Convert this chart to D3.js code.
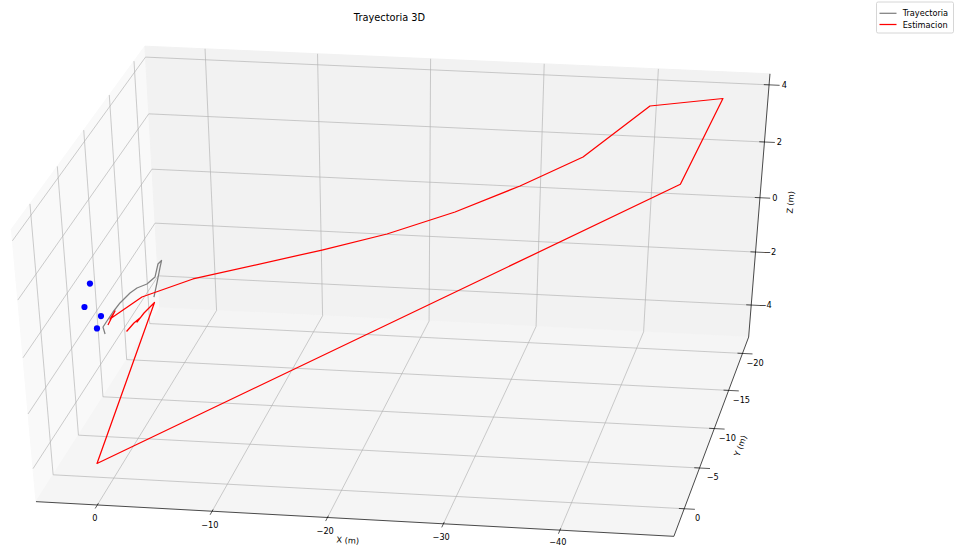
<!DOCTYPE html>
<html>
<head>
<meta charset="utf-8">
<title>Trayectoria 3D</title>
<script src="https://cdn.jsdelivr.net/npm/d3@7"></script>
<style>
  html, body { margin: 0; padding: 0; background: #fff; }
  svg { display: block; font-family: "DejaVu Sans", sans-serif; }
</style>
</head>
<body>
<svg id="chart" width="957" height="546"></svg>
<script>
// ---- data (metres) ----
// estimated trajectory
const estX = [-1.71, -1.87, -2.10, -2.07, -2.17, -2.48, 1.45, -45.15, -46.28, -39.97, -35.28, -30.47, -25.50, -20.10, -14.81, -4.78, -1.30, 0.34, 0.36, 0.18];
const estY = [-0.55, -1.65, -2.31, -1.79, -2.96, -4.35, -0.11, -10.90, -20.00, -20.12, -16.57, -14.54, -12.53, -11.05, -10.01, -6.88, -4.61, -2.00, -3.03, -1.24];
const estZ = [0, 0, 0, 0, 0, 0, -4.75, 3.25, 4.00, 3.60, 2.60, 2.00, 1.50, 1.00, 0.60, 0.20, 0.10, 0, 0, 0];
// real trajectory
const trajX = [-0.07, 0.48, 0.48, 0.47, 0.38, 0.09, -0.22, -0.84, -1.14, -0.67, -0.78, -1.06, -1.63, -2.14];
const trajY = [-0.11, -0.96, -1.73, -2.89, -4.07, -5.40, -6.09, -6.66, -7.62, -9.33, -9.81, -8.82, -6.85, -5.04];
const trajZ = [0, 0, 0, 0, 0, 0, 0, 0, 0, 0, 0, 0, 0, 0];
// anchors
const ancX = [4.00, 3.13, 1.25, 0.90];
const ancY = [-6.36, -3.34, -2.31, -0.74];
const ancZ = [0, 0, 0, 0];

// ---- axes ----
const xLim = [-49.726, 5.3654];
const yLim = [-22.2626, 3.2933];
const zLim = [-5.2323, 4.38];
const xTicks = [0, -10, -20, -30, -40];
const yTicks = [0, -5, -10, -15, -20];
const zTicks = [-4, -2, 0, 2, 4];
const axisTitles = ["X (m)", "Y (m)", "Z (m)"];
const chartTitle = "Trayectoria 3D";
const seriesNames = ["Trayectoria", "Estimacion"];

// ---- camera (elevation / azimuth in degrees, distance in box units) ----
const elev = 35.93, azim = 99.23, dist = 9.42;

const svg = d3.select("#chart");
const fontTick = 8.2, fontTitle = 9.8;
const H = +svg.attr("height");

// data -> unit cube
const nx = d3.scaleLinear().domain(xLim).range([0, 1]);
const ny = d3.scaleLinear().domain(yLim).range([0, 1]);
const nz = d3.scaleLinear().domain(zLim).range([0, 1]);
// projected view coordinates -> pixels
const px = d3.scaleLinear().domain([-0.095, 0.09]).range([-167.84, 946.89]);
const py = d3.scaleLinear().domain([-0.095, 0.09]).range([582.47, 6.68]);

// view basis
const el = elev * Math.PI / 180, az = azim * Math.PI / 180;
const eye = [0.5 + Math.cos(az) * Math.cos(el) * dist,
             0.5 + Math.sin(az) * Math.cos(el) * dist,
             0.5 + Math.sin(el) * dist];
const nv = (() => { const d = eye.map(e => e - 0.5); const l = Math.hypot(...d); return d.map(v => v / l); })();
const uv = (() => { const d = [-nv[1], nv[0], 0]; const l = Math.hypot(...d); return d.map(v => v / l); })();
const vv = [nv[1] * uv[2] - nv[2] * uv[1], nv[2] * uv[0] - nv[0] * uv[2], nv[0] * uv[1] - nv[1] * uv[0]];
const dot = (a, b) => a[0] * b[0] + a[1] * b[1] + a[2] * b[2];

function proj(x, y, z) {
  const c = [nx(x) - eye[0], ny(y) - eye[1], nz(z) - eye[2]];
  const w = -dot(nv, c);
  return [px(dot(uv, c) / w), py(dot(vv, c) / w)];
}

const [x0, x1] = xLim, [y0, y1] = yLim, [z0, z1] = zLim;
// far planes: x = x1, y = y0, z = z0 ; near planes: x = x0, y = y1, z = z1
const line = d3.line();
const gPanes = svg.append("g");
const panes = [
  { pts: [[x1, y0, z0], [x1, y1, z0], [x1, y1, z1], [x1, y0, z1]], fill: "#f9f9f9" },
  { pts: [[x0, y0, z0], [x1, y0, z0], [x1, y0, z1], [x0, y0, z1]], fill: "#f2f2f2" },
  { pts: [[x0, y0, z0], [x1, y0, z0], [x1, y1, z0], [x0, y1, z0]], fill: "#f5f5f5" }
];
panes.forEach(p => {
  gPanes.append("path")
    .attr("d", line(p.pts.map(q => proj(...q))) + "Z")
    .attr("fill", p.fill).attr("stroke", p.fill).attr("stroke-width", 1);
});

// grid lines
const gGrid = svg.append("g").attr("fill", "none").attr("stroke", "#b0b0b0").attr("stroke-width", 0.65);
xTicks.forEach(t => gGrid.append("path").attr("d", line([[t, y1, z0], [t, y0, z0], [t, y0, z1]].map(q => proj(...q)))));
yTicks.forEach(t => gGrid.append("path").attr("d", line([[x1, t, z1], [x1, t, z0], [x0, t, z0]].map(q => proj(...q)))));
zTicks.forEach(t => gGrid.append("path").attr("d", line([[x0, y0, t], [x1, y0, t], [x1, y1, t]].map(q => proj(...q)))));

// axis lines
const axes = [
  { a: [x1, y1, z0], b: [x0, y1, z0] },
  { a: [x0, y0, z0], b: [x0, y1, z0] },
  { a: [x0, y0, z0], b: [x0, y0, z1] }
];
const gAxis = svg.append("g").attr("stroke", "#000").attr("stroke-width", 0.7).attr("fill", "none");
axes.forEach(ax => gAxis.append("path").attr("d", line([proj(...ax.a), proj(...ax.b)])));

const dx = (x1 - x0) / 12, dy = (y1 - y0) / 12, dz = (z1 - z0) / 12;
const kTick = 0.26, kLabel = 0.565;
const fmt = v => (v < 0 ? "\u2212" + Math.abs(v) : String(v));
const gTicks = svg.append("g").attr("stroke", "#000").attr("stroke-width", 0.65);
const gText = svg.append("g").attr("fill", "#000").attr("font-size", fontTick).attr("text-anchor", "middle");

function tickLabel(p, txt) {
  // keep the baseline inside the drawing area
  gText.append("text").attr("x", p[0]).attr("y", Math.min(p[1] + 0.76 * fontTick, H - 1.5)).text(txt);
}
xTicks.forEach(t => {
  const a = proj(t, y1 - 0.1 * dy, z0), b = proj(t, y1 + 0.2 * dy, z0);
  gTicks.append("line").attr("x1", a[0]).attr("y1", a[1]).attr("x2", b[0]).attr("y2", b[1]);
  tickLabel(proj(t, y1 + kTick * dy, z0 - kTick * dz), fmt(t));
});
yTicks.forEach(t => {
  const a = proj(x0 + 0.1 * dx, t, z0), b = proj(x0 - 0.2 * dx, t, z0);
  gTicks.append("line").attr("x1", a[0]).attr("y1", a[1]).attr("x2", b[0]).attr("y2", b[1]);
  tickLabel(proj(x0 - kTick * dx, t, z0 - kTick * dz), fmt(t));
});
zTicks.forEach(t => {
  const a = proj(x0 + 0.1 * dx, y0, t), b = proj(x0 - 0.2 * dx, y0, t);
  gTicks.append("line").attr("x1", a[0]).attr("y1", a[1]).attr("x2", b[0]).attr("y2", b[1]);
  tickLabel(proj(x0 - kTick * dx, y0 - kTick * dy, t), fmt(t));
});

// axis titles, rotated along their axis
function axisTitle(ax, pos, txt) {
  const a = proj(...ax.a), b = proj(...ax.b);
  let ang = Math.atan2(-(b[1] - a[1]), b[0] - a[0]) * 180 / Math.PI;
  ang = ((ang % 180) + 180) % 180;
  if (ang > 90) ang -= 180;
  const p = proj(...pos);
  gText.append("text")
    .attr("transform", `translate(${p[0]},${p[1]}) rotate(${-ang})`)
    .attr("dy", "0.27em").text(txt);
}
axisTitle(axes[0], [(x0 + x1) / 2, y1 + kLabel * dy, z0 - kLabel * dz], axisTitles[0]);
axisTitle(axes[1], [x0 - kLabel * dx, (y0 + y1) / 2, z0 - kLabel * dz], axisTitles[1]);
axisTitle(axes[2], [x0 - kLabel * dx, y0 - kLabel * dy, (z0 + z1) / 2], axisTitles[2]);

// series
const pts = (X, Y, Z) => X.map((x, i) => proj(x, Y[i], Z[i]));
const colors = ["#808080", "#ff0000"];
svg.append("path").attr("d", line(pts(trajX, trajY, trajZ)))
  .attr("fill", "none").attr("stroke", colors[0]).attr("stroke-width", 1.25).attr("stroke-linejoin", "round");
svg.append("path").attr("d", line(pts(estX, estY, estZ)))
  .attr("fill", "none").attr("stroke", colors[1]).attr("stroke-width", 1.25).attr("stroke-linejoin", "round");
svg.append("g").selectAll("circle").data(pts(ancX, ancY, ancZ)).join("circle")
  .attr("cx", d => d[0]).attr("cy", d => d[1]).attr("r", 3.1).attr("fill", "#0000ff");

// title
svg.append("text").attr("x", 389.5).attr("y", 20.5).attr("text-anchor", "middle")
  .attr("font-size", fontTitle).attr("fill", "#000").text(chartTitle);

// legend
const lg = svg.append("g").attr("transform", "translate(876.5,2)");
lg.append("rect").attr("width", 77).attr("height", 31).attr("rx", 1.6)
  .attr("fill", "#fff").attr("fill-opacity", 0.8).attr("stroke", "#cccccc").attr("stroke-width", 0.8);
seriesNames.forEach((name, i) => {
  const yy = 11.3 + i * 11.2;
  lg.append("line").attr("x1", 3).attr("x2", 20).attr("y1", yy).attr("y2", yy)
    .attr("stroke", colors[i]).attr("stroke-width", 1.25);
  lg.append("text").attr("x", 26.2).attr("y", yy + 3).attr("font-size", fontTick).attr("fill", "#000").text(name);
});
</script>
</body>
</html>
